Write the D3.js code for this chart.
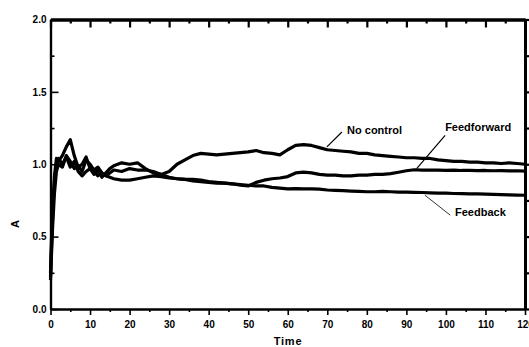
<!DOCTYPE html>
<html>
<head>
<meta charset="utf-8">
<script src="https://cdn.jsdelivr.net/npm/d3@7"></script>
<style>
  html, body { margin: 0; padding: 0; background: #fff; }
  svg { display: block; font-family: "Liberation Sans", Arial, sans-serif; font-weight: bold; }
</style>
</head>
<body>
<div id="chart"></div>
<script>
// time points shared by all three runs
const time = [0, 0.5, 1, 1.5, 2, 3, 4, 5, 6, 7, 8, 9, 10, 11, 12, 13, 14, 15, 16, 18, 20, 22, 24, 26, 28, 30,
  32, 34, 36, 38, 40, 42, 44, 46, 48, 50, 52, 54, 56, 58, 60, 62, 64, 66, 68, 70, 72, 74, 76, 78, 80,
  82, 84, 86, 88, 90, 92, 94, 96, 98, 100, 102, 104, 106, 108, 110, 112, 114, 116, 118, 120];

const noControl = [0.22, 0.62, 0.92, 1.04, 1.02, 1.06, 1.12, 1.17, 1.06, 0.98, 1.0, 1.05, 0.97, 0.93, 0.96, 0.91, 0.94, 0.97, 0.99, 1.01, 1.0, 1.01, 0.97, 0.94, 0.93, 0.95,
  1.0, 1.03, 1.06, 1.075, 1.07, 1.065, 1.07, 1.075, 1.08, 1.085, 1.095, 1.08, 1.075, 1.065, 1.1, 1.13, 1.135, 1.13, 1.115, 1.1, 1.095, 1.09, 1.085, 1.075, 1.075,
  1.065, 1.06, 1.055, 1.05, 1.045, 1.045, 1.04, 1.04, 1.03, 1.025, 1.02, 1.02, 1.015, 1.015, 1.01, 1.01, 1.005, 1.01, 1.005, 1.0];

const feedforward = [0.25, 0.7, 0.88, 1.0, 1.04, 1.0, 1.05, 0.98, 1.02, 0.95, 0.92, 0.95, 0.97, 0.95, 0.92, 0.94, 0.92, 0.94, 0.96, 0.95, 0.97, 0.96, 0.96, 0.95, 0.93, 0.91,
  0.9, 0.895, 0.895, 0.89, 0.88, 0.875, 0.87, 0.865, 0.855, 0.85, 0.875, 0.89, 0.9, 0.905, 0.915, 0.94, 0.945, 0.94, 0.93, 0.925, 0.925, 0.92, 0.92, 0.925, 0.925,
  0.93, 0.93, 0.935, 0.945, 0.955, 0.962, 0.96, 0.96, 0.96, 0.958, 0.96, 0.957, 0.958, 0.956, 0.957, 0.955, 0.956, 0.954, 0.955, 0.953];

const feedback = [0.2, 0.55, 0.8, 0.95, 1.0, 0.98, 1.06, 1.02, 0.97, 0.99, 0.95, 1.03, 1.0, 0.96, 0.98, 0.94, 0.92, 0.91, 0.9, 0.89, 0.89, 0.9, 0.91, 0.92, 0.915, 0.905,
  0.9, 0.895, 0.885, 0.88, 0.875, 0.87, 0.87, 0.865, 0.86, 0.855, 0.85, 0.85, 0.84, 0.835, 0.83, 0.832, 0.83, 0.83, 0.828, 0.822, 0.82, 0.818, 0.815, 0.812, 0.81,
  0.81, 0.812, 0.81, 0.808, 0.808, 0.806, 0.805, 0.802, 0.8, 0.8, 0.798, 0.797, 0.796, 0.795, 0.793, 0.792, 0.79, 0.789, 0.787, 0.786];

const xTicks = [0, 10, 20, 30, 40, 50, 60, 70, 80, 90, 100, 110, 120];
const yTicks = [0, 0.5, 1.0, 1.5, 2.0];

// label text, where the text starts (t, A), and the pointer from -> to
const labelNames = ["No control", "Feedforward", "Feedback"];
const labelAt = [[75.0, 1.207], [99.8, 1.228], [102.3, 0.645]];
const pointerFrom = [[73.7, 1.223], [99.8, 1.2], [101.1, 0.648]];
const pointerTo = [[69.9, 1.12], [92.6, 0.97], [94.7, 0.786]];

const W = 529, H = 347;
const svg = d3.select("#chart").append("svg")
  .attr("width", W)
  .attr("height", H);

const x = d3.scaleLinear().domain([0, 120]).range([50.5, 525]);
const y = d3.scaleLinear().domain([0, 2]).range([309, 19.5]);

const minorX = d3.range(5, 120, 10);
const minorY = d3.range(0.25, 2, 0.5);

// bottom axis, ticks outward (the last label runs off the page, as in the source)
svg.append("g").attr("transform", `translate(0,${y(0)})`)
  .call(d3.axisBottom(x).tickValues(xTicks).tickFormat(d3.format("d")).tickSize(6).tickSizeOuter(0).tickPadding(6));
svg.append("g").attr("transform", `translate(0,${y(0)})`)
  .call(d3.axisBottom(x).tickValues(minorX).tickFormat("").tickSize(3).tickSizeOuter(0));

// left axis, ticks inward
svg.append("g").attr("transform", `translate(${x(0)},0)`)
  .call(d3.axisLeft(y).tickValues(yTicks).tickFormat(d3.format(".1f")).tickSize(-8).tickSizeOuter(0).tickPadding(4));
svg.append("g").attr("transform", `translate(${x(0)},0)`)
  .call(d3.axisLeft(y).tickValues(minorY).tickFormat("").tickSize(-4).tickSizeOuter(0));

// top axis, ticks inward
svg.append("g").attr("class", "heavy").attr("transform", `translate(0,${y(2)})`)
  .call(d3.axisTop(x).tickValues(xTicks).tickFormat("").tickSize(-8).tickSizeOuter(0));
svg.append("g").attr("class", "heavy").attr("transform", `translate(0,${y(2)})`)
  .call(d3.axisTop(x).tickValues(minorX).tickFormat("").tickSize(-4).tickSizeOuter(0));

// right axis, ticks outward
svg.append("g").attr("class", "heavy").attr("transform", `translate(${x(120)},0)`)
  .call(d3.axisRight(y).tickValues(yTicks).tickFormat("").tickSize(6).tickSizeOuter(0));
svg.append("g").attr("class", "heavy").attr("transform", `translate(${x(120)},0)`)
  .call(d3.axisRight(y).tickValues(minorY).tickFormat("").tickSize(4).tickSizeOuter(0));

svg.selectAll(".domain").attr("stroke", "#000").attr("stroke-width", 2.2);
svg.selectAll(".tick line").attr("stroke", "#000").attr("stroke-width", 1.6);
svg.selectAll(".heavy .domain").attr("stroke-width", 3);
svg.selectAll(".heavy .tick line").attr("stroke-width", 2.2);
svg.selectAll(".tick text")
  .attr("fill", "#000")
  .attr("font-size", 10)
  .attr("font-weight", "bold")
  .attr("font-family", "'Liberation Sans', Arial, sans-serif");

// series
const line = d3.line()
  .x((d, i) => x(time[i]))
  .y(d => y(d));

[noControl, feedforward, feedback].forEach(series => {
  svg.append("path")
    .datum(series)
    .attr("fill", "none")
    .attr("stroke", "#000")
    .attr("stroke-width", 3.2)
    .attr("stroke-linejoin", "round")
    .attr("d", line);
});

// labels with pointers
labelNames.forEach((name, i) => {
  svg.append("line")
    .attr("x1", x(pointerFrom[i][0])).attr("y1", y(pointerFrom[i][1]))
    .attr("x2", x(pointerTo[i][0])).attr("y2", y(pointerTo[i][1]))
    .attr("stroke", "#000")
    .attr("stroke-width", i === 2 ? 0.8 : 1.2);
  svg.append("text")
    .attr("x", x(labelAt[i][0]))
    .attr("y", y(labelAt[i][1]))
    .attr("font-size", 11)
    .attr("fill", "#000")
    .text(name);
});

// axis titles
svg.append("text")
  .attr("x", 288).attr("y", 345)
  .attr("text-anchor", "middle")
  .attr("font-size", 11)
  .attr("letter-spacing", 0.8)
  .text("Time");

svg.append("text")
  .attr("transform", "translate(19,224) rotate(-90)")
  .attr("text-anchor", "middle")
  .attr("font-size", 11)
  .text("A");
</script>
</body>
</html>
